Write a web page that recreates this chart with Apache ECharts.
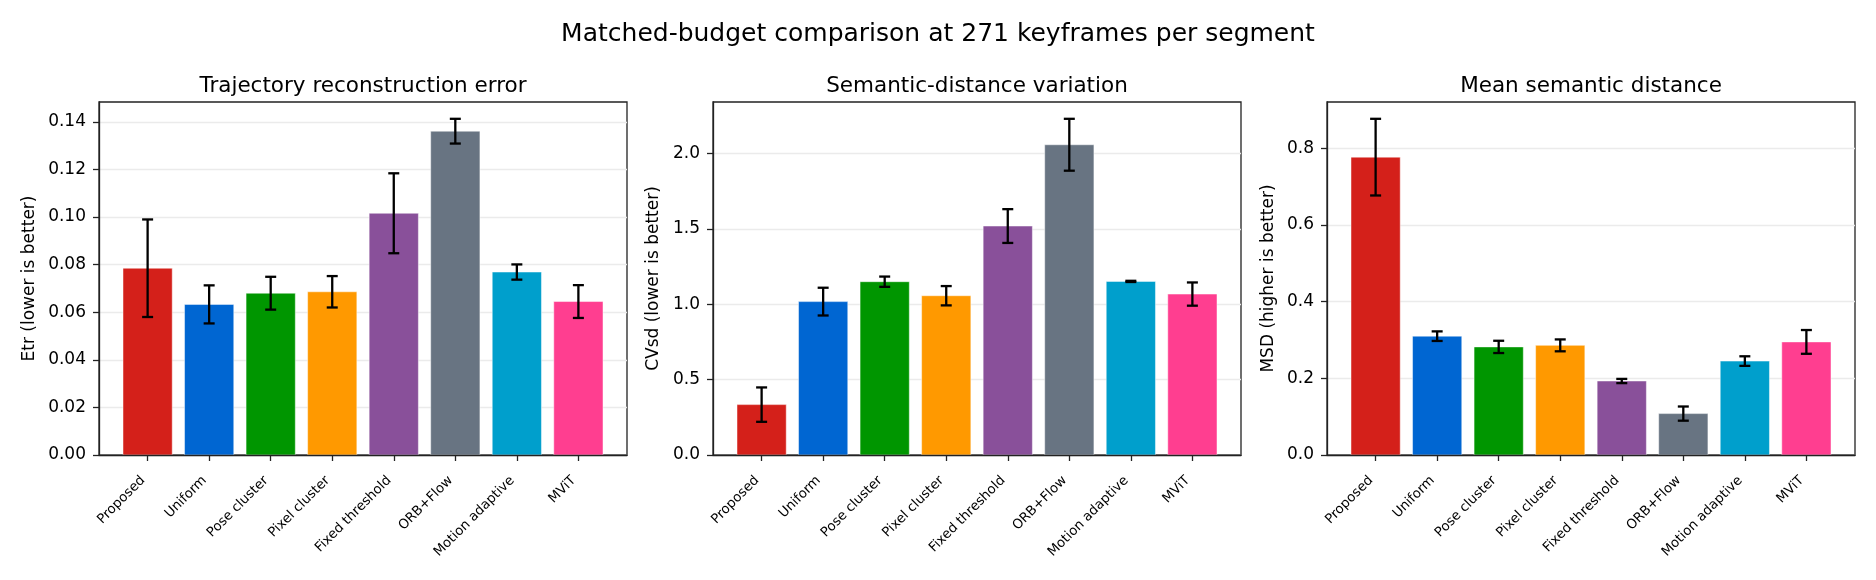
<!DOCTYPE html>
<html>
<head>
<meta charset="utf-8">
<script src="https://cdn.jsdelivr.net/npm/echarts@6/dist/echarts.min.js"></script>
<style>
html,body{margin:0;padding:0;background:#fff;}
#chart{width:1876px;height:580px;}
</style>
</head>
<body>
<div id="chart"></div>
<script>
const categories = ['Proposed','Uniform','Pose cluster','Pixel cluster','Fixed threshold','ORB+Flow','Motion adaptive','MViT'];
const barColors = ['#d4201a','#0066d2','#009600','#ff9900','#89509a','#687482','#009fcc','#ff3e90'];

const etrMean = [0.0785,0.0633,0.0680,0.0686,0.1016,0.1361,0.0769,0.0645];
const etrErr  = [0.0205,0.0080,0.0069,0.0066,0.0168,0.0052,0.0032,0.0069];
const etrTicks = [0,0.02,0.04,0.06,0.08,0.10,0.12,0.14];

const cvsdMean = [0.334,1.017,1.149,1.056,1.518,2.057,1.151,1.067];
const cvsdErr  = [0.114,0.092,0.034,0.064,0.112,0.172,0.004,0.077];
const cvsdTicks = [0,0.5,1.0,1.5,2.0];

const msdMean = [0.777,0.310,0.282,0.286,0.193,0.108,0.245,0.295];
const msdErr  = [0.100,0.0125,0.016,0.0155,0.0055,0.0185,0.0125,0.031];
const msdTicks = [0,0.2,0.4,0.6,0.8];

const panels = [
  {title:'Trajectory reconstruction error', ylabel:'Etr (lower is better)', mean:etrMean, err:etrErr, ticks:etrTicks, step:0.02, dec:2, gap:61},
  {title:'Semantic-distance variation', ylabel:'CVsd (lower is better)', mean:cvsdMean, err:cvsdErr, ticks:cvsdTicks, step:0.5, dec:1, gap:51},
  {title:'Mean semantic distance', ylabel:'MSD (higher is better)', mean:msdMean, err:msdErr, ticks:msdTicks, step:0.2, dec:1, gap:50}
];

const gridLefts = [99, 713, 1327];
const gridW = 528, gridTop = 102, gridH = 353;
const FONT = 'DejaVu Sans';
const xIdx = categories.map((c,i)=>i);

const option = {
  backgroundColor:'#fff',
  animation:false,
  textStyle:{fontFamily:FONT},
  title:[{text:'Matched-budget comparison at 271 keyframes per segment', left:938, top:22, textAlign:'center', padding:0,
          textStyle:{fontFamily:FONT, fontSize:25, fontWeight:'normal', color:'#000'}}],
  grid:[], xAxis:[], yAxis:[], series:[]
};

panels.forEach((p,k)=>{
  option.title.push({text:p.title, left:gridLefts[k]+gridW/2, top:75, textAlign:'center', padding:0,
    textStyle:{fontFamily:FONT, fontSize:21.5, fontWeight:'normal', color:'#000'}});
  option.grid.push({left:gridLefts[k], top:gridTop, width:gridW, height:gridH, show:true,
    borderColor:'#222', borderWidth:1.3, backgroundColor:'transparent', containLabel:false});
  option.xAxis.push({type:'value', gridIndex:k, min:-0.79, max:7.79, z:5,
    axisLine:{show:true, onZero:false, lineStyle:{color:'#222', width:1.3}},
    axisTick:{show:true, customValues:xIdx, length:6, lineStyle:{color:'#222', width:1.3}},
    axisLabel:{customValues:xIdx, rotate:45, margin:28, align:'right', verticalAlign:'bottom', fontSize:13.3, color:'#000', fontFamily:FONT,
      formatter:(v)=>categories[Math.round(v)]},
    splitLine:{show:false}});
  const upper = Math.max(...p.mean.map((m,i)=>m+p.err[i]));
  option.yAxis.push({type:'value', gridIndex:k, min:0, max:upper*1.05, interval:p.step, z:0,
    name:p.ylabel, nameLocation:'middle', nameGap:p.gap, nameRotate:90,
    nameTextStyle:{fontSize:17, color:'#000', fontFamily:FONT},
    axisLine:{show:true, onZero:false, lineStyle:{color:'#222', width:1.3}},
    axisTick:{show:true, customValues:p.ticks, length:6, lineStyle:{color:'#222', width:1.3}},
    axisLabel:{customValues:p.ticks, margin:13, fontSize:17, color:'#000', fontFamily:FONT,
      formatter:(v)=>v.toFixed(p.dec)},
    splitLine:{show:true, lineStyle:{color:'#ebebeb', width:1.3}}});
  option.series.push({type:'custom', xAxisIndex:k, yAxisIndex:k, z:2,
    data:p.mean.map((m,i)=>[i,m]),
    renderItem:(params, api)=>{
      const x = api.value(0), y = api.value(1);
      const a = api.coord([x-0.4, 0]), b = api.coord([x+0.4, y]);
      return {type:'rect', shape:{x:a[0], y:b[1], width:b[0]-a[0], height:a[1]-b[1]},
        style:{fill:barColors[params.dataIndex], stroke:'rgba(255,255,255,0.6)', lineWidth:0.8}};
    }});
  option.series.push({type:'custom', xAxisIndex:k, yAxisIndex:k, z:3,
    data:p.mean.map((m,i)=>[i,m-p.err[i],m+p.err[i]]),
    renderItem:(params, api)=>{
      const x = api.value(0);
      const lo = api.coord([x, api.value(1)]), hi = api.coord([x, api.value(2)]);
      const cw = 5.5, st = {stroke:'#000', lineWidth:2.3};
      return {type:'group', children:[
        {type:'line', shape:{x1:lo[0], y1:lo[1], x2:hi[0], y2:hi[1]}, style:st},
        {type:'line', shape:{x1:lo[0]-cw, y1:lo[1], x2:lo[0]+cw, y2:lo[1]}, style:st},
        {type:'line', shape:{x1:hi[0]-cw, y1:hi[1], x2:hi[0]+cw, y2:hi[1]}, style:st}
      ]};
    }});
});

const chart = echarts.init(document.getElementById('chart'), null, {renderer:'canvas'});
chart.setOption(option);
</script>
</body>
</html>
